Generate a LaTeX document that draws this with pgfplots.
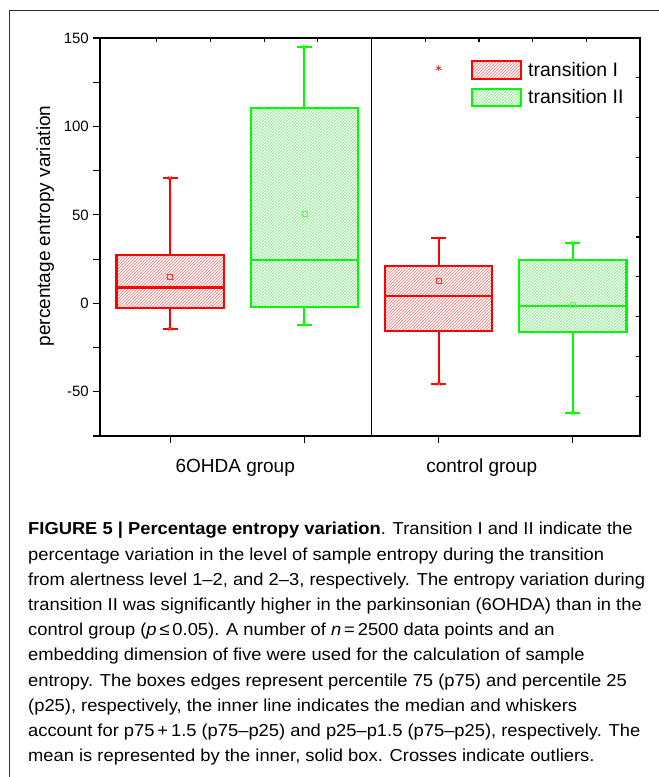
\documentclass[border=0pt]{standalone}
\usepackage{pgfplots}
\pgfplotsset{compat=1.18}
\usetikzlibrary{patterns}
\usepackage{fontspec}
\setmainfont{Liberation Sans}
\newfontfamily\capfont[FakeStretch=1.06]{Liberation Sans}
\definecolor{cred}{RGB}{255,0,0}
\definecolor{cgreen}{RGB}{0,250,0}
\definecolor{hred}{RGB}{255,110,110}
\definecolor{hgreen}{RGB}{110,240,110}
\pgfdeclarepatternformonly{hatch}{\pgfqpoint{-1pt}{-1pt}}{\pgfqpoint{4pt}{4pt}}{\pgfqpoint{3pt}{3pt}}{%
  \pgfsetlinewidth{0.6pt}%
  \pgfpathmoveto{\pgfqpoint{0pt}{0pt}}%
  \pgfpathlineto{\pgfqpoint{3.1pt}{3.1pt}}%
  \pgfusepath{stroke}}
\tikzset{
  redhatch/.style={pattern=hatch, pattern color=hred},
  greenhatch/.style={pattern=hatch, pattern color=hgreen},
}
\begin{document}
\begin{tikzpicture}
\useasboundingbox (0pt,0pt) rectangle (659pt,777pt);
\draw[line width=1.2pt, black!80] (9.5pt,-10pt) -- (9.5pt,766.5pt) -- (680pt,766.5pt);
% main axis
\begin{axis}[
  at={(100pt,341pt)}, anchor=south west,
  scale only axis, width=540pt, height=398pt,
  xmin=0.4776, xmax=4.5, ymin=-75, ymax=150,
  axis line style={line width=1.4pt},
  xtick={1,2,3,4}, xticklabels={}, xtick pos=bottom,
  ytick={-75,-50,-25,0,25,50,75,100,125,150},
  yticklabels={,-50,,0,,50,,100,,150}, ytick pos=left,
  tick align=outside, major tick length=7pt,
  tick style={line width=1.2pt, black},
  yticklabel style={font=\fontsize{15}{15}\selectfont, inner sep=0pt, xshift=-4pt},
  clip=false,
  legend style={at={(rel axis cs:0.687,0.945)}, anchor=north west, draw=none, fill=none,
    inner sep=0pt, font=\fontsize{19.5}{19.5}\selectfont, row sep=8pt,
    nodes={inner sep=0pt},
    /tikz/every odd column/.append style={column sep=6pt}},
  legend cell align=left,
]
\addlegendimage{legend image code/.code={\draw[cred, line width=2pt, redhatch] (0pt,-8.8pt) rectangle (49pt,8.8pt);}}
\addlegendentry{transition I}
\addlegendimage{legend image code/.code={\draw[cgreen, line width=2pt, greenhatch] (0pt,-8.8pt) rectangle (49pt,8.8pt);}}
\addlegendentry{transition II}

% divider
\addplot[black, line width=1.2pt, forget plot] coordinates {(2.5,-75) (2.5,150)};

\pgfplotsset{bx/.style={line width=2.2pt, forget plot, line join=miter, mark=none}}
% ---- 6OHDA, transition I: lw -14.7, q1 -2.5, med 9.0, q3 27.3, uw 70.9, mean 15.0
\addplot[bx, cred, redhatch] coordinates {(0.6,-2.5) (1.4,-2.5) (1.4,27.3) (0.6,27.3)} -- cycle;
\addplot[bx, cred] coordinates {(0.6,9.0) (1.4,9.0)};
\addplot[bx, cred] coordinates {(1,27.3) (1,70.9)};
\addplot[bx, cred] coordinates {(1,-2.5) (1,-14.7)};
\addplot[bx, cred] coordinates {(0.945,70.9) (1.055,70.9)};
\addplot[bx, cred] coordinates {(0.945,-14.7) (1.055,-14.7)};
% ---- 6OHDA, transition II: lw -12.1, q1 -1.9, med 24.3, q3 110.6, uw 145.1, mean 50.7
\addplot[bx, cgreen, greenhatch] coordinates {(1.6,-1.9) (2.4,-1.9) (2.4,110.6) (1.6,110.6)} -- cycle;
\addplot[bx, cgreen] coordinates {(1.6,24.3) (2.4,24.3)};
\addplot[bx, cgreen] coordinates {(2,110.6) (2,145.1)};
\addplot[bx, cgreen] coordinates {(2,-1.9) (2,-12.1)};
\addplot[bx, cgreen] coordinates {(1.945,145.1) (2.055,145.1)};
\addplot[bx, cgreen] coordinates {(1.945,-12.1) (2.055,-12.1)};
% ---- control, transition I: lw -45.5, q1 -15.8, med 4.1, q3 21.1, uw 37.1, mean 12.6
\addplot[bx, cred, redhatch] coordinates {(2.6,-15.8) (3.4,-15.8) (3.4,21.1) (2.6,21.1)} -- cycle;
\addplot[bx, cred] coordinates {(2.6,4.1) (3.4,4.1)};
\addplot[bx, cred] coordinates {(3,21.1) (3,37.1)};
\addplot[bx, cred] coordinates {(3,-15.8) (3,-45.5)};
\addplot[bx, cred] coordinates {(2.945,37.1) (3.055,37.1)};
\addplot[bx, cred] coordinates {(2.945,-45.5) (3.055,-45.5)};
% ---- control, transition II: lw -62.2, q1 -16.4, med -1.4, q3 24.5, uw 34.3, mean -1.1
\addplot[bx, cgreen, greenhatch] coordinates {(3.6,-16.4) (4.4,-16.4) (4.4,24.5) (3.6,24.5)} -- cycle;
\addplot[bx, cgreen] coordinates {(3.6,-1.4) (4.4,-1.4)};
\addplot[bx, cgreen] coordinates {(4,24.5) (4,34.3)};
\addplot[bx, cgreen] coordinates {(4,-16.4) (4,-62.2)};
\addplot[bx, cgreen] coordinates {(3.945,34.3) (4.055,34.3)};
\addplot[bx, cgreen] coordinates {(3.945,-62.2) (4.055,-62.2)};

% means
\addplot[only marks, mark=square, mark size=2.5pt, draw=cred!80, mark options={line width=0.6pt}, forget plot]
  coordinates {(1,15.0) (3,12.6)};
\addplot[only marks, mark=square, mark size=2.5pt, draw=hgreen, mark options={line width=0.6pt}, forget plot]
  coordinates {(2,50.7) (4,-1.1)};
% whisker end crosses
\addplot[only marks, mark=x, mark size=3pt, draw=cred!70, mark options={line width=0.5pt}, forget plot]
  coordinates {(1,70.9) (1,-14.7) (3,-45.5)};
\addplot[only marks, mark=x, mark size=3pt, draw=cgreen!80, mark options={line width=0.5pt}, forget plot]
  coordinates {(2,145.1) (2,-12.1) (4,34.3) (4,-62.2)};
% outlier
\addplot[only marks, mark=asterisk, mark size=3pt, draw=cred, mark options={line width=0.6pt}, forget plot]
  coordinates {(3,132.9)};

% group labels
\node[anchor=base, font=\fontsize{19}{19}\selectfont, yshift=-37pt] at (axis cs:1.485,-75) {6OHDA group};
\node[anchor=base, font=\fontsize{19}{19}\selectfont, yshift=-37pt] at (axis cs:3.321,-75) {control group};
\end{axis}
% top/right inward ticks
\begin{axis}[
  at={(100pt,341pt)}, anchor=south west,
  scale only axis, width=540pt, height=398pt,
  xmin=0.4776, xmax=4.5, ymin=-75, ymax=150,
  axis line style={line width=1.4pt},
  xtick={0.9,1.3,1.7,2.1,2.5,2.9,3.3,3.7,4.1}, xticklabels={}, xtick pos=top,
  ytick={-52.5,-30,-7.5,15,37.5,60,82.5,105,127.5}, yticklabels={}, ytick pos=right,
  tick align=inside, major tick length=4.5pt,
  tick style={line width=1.2pt, black},
]
\end{axis}
% y label
\node[rotate=90, anchor=base, font=\fontsize{19}{19}\selectfont] at (50pt,551pt) {percentage entropy variation};
% caption
\node[anchor=base west, inner sep=0pt] at (28pt,242pt) {\parbox[t]{700pt}{\capfont\fontsize{17.3}{25.2}\selectfont\raggedright
\textbf{FIGURE 5 | Percentage entropy variation}. Transition I and II indicate the\\
percentage variation in the level of sample entropy during the transition\\
from alertness level 1–2, and 2–3, respectively. The entropy variation during\\
transition II was significantly higher in the parkinsonian (6OHDA) than in the\\
control group (\textit{p}\,≤\,0.05). A number of \textit{n}\,=\,2500 data points and an\\
embedding dimension of five were used for the calculation of sample\\
entropy. The boxes edges represent percentile 75 (p75) and percentile 25\\
(p25), respectively, the inner line indicates the median and whiskers\\
account for p75\,+\,1.5 (p75–p25) and p25–p1.5 (p75–p25), respectively. The\\
mean is represented by the inner, solid box. Crosses indicate outliers.}};
\end{tikzpicture}
\end{document}
